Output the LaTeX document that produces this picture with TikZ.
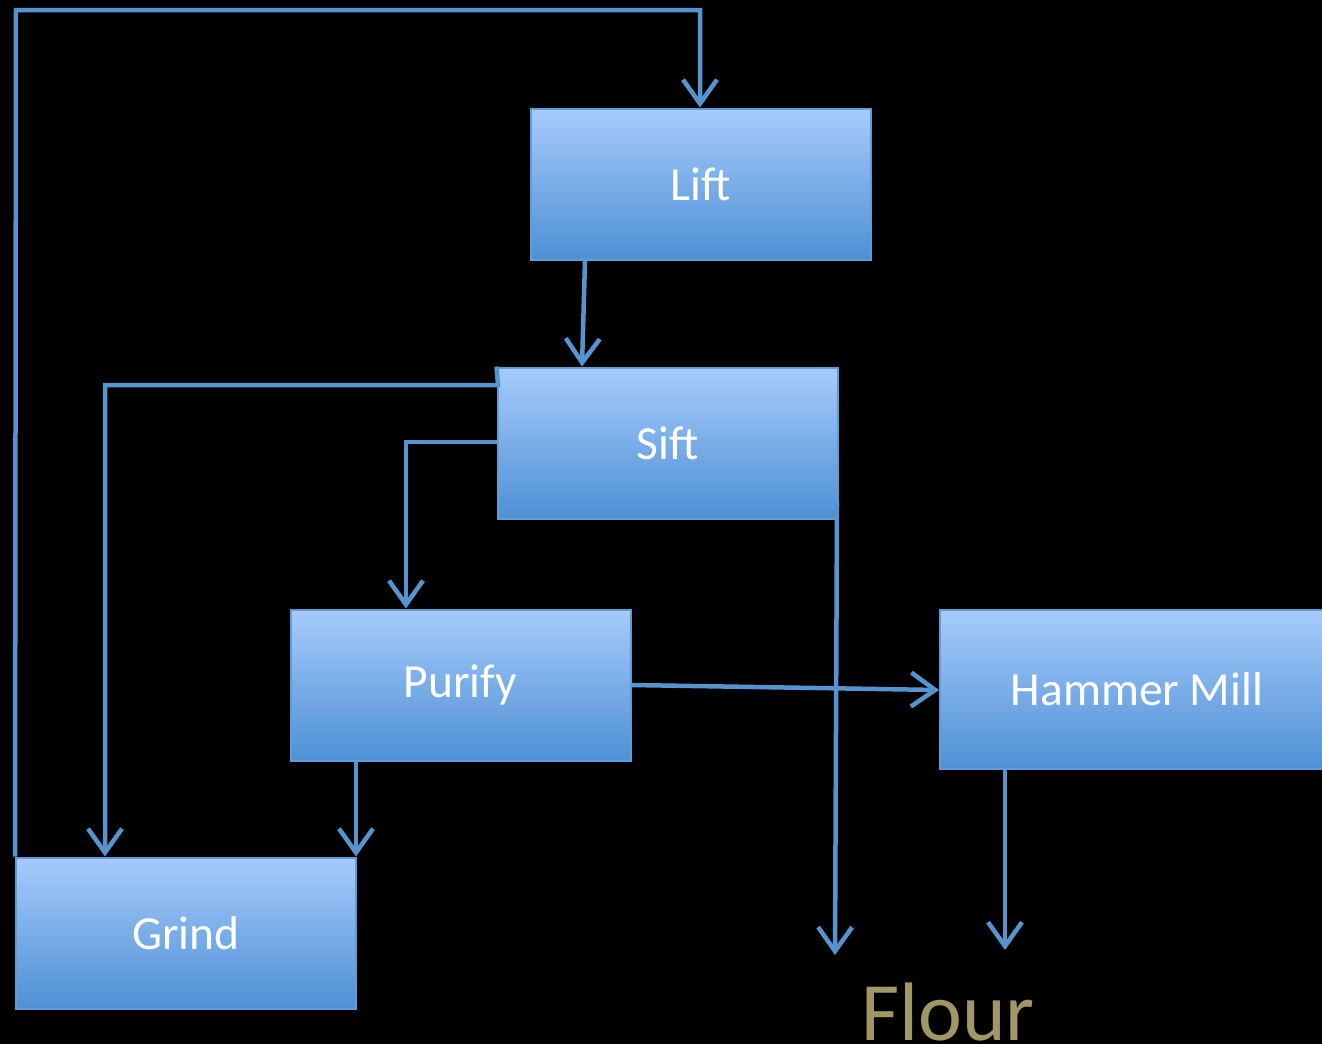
\documentclass[tikz,border=0pt]{standalone}
\usepackage{fontspec}
\setmainfont{Carlito}
\usetikzlibrary{arrows.meta,shadings}
\definecolor{linkblue}{RGB}{86,148,208}
\definecolor{boxtop}{RGB}{166,203,252}
\definecolor{boxbot}{RGB}{78,144,212}
\definecolor{boxedge}{RGB}{96,156,214}
\definecolor{flourgold}{RGB}{160,150,102}
\tikzset{
  stepbox/.style={rectangle, draw=boxedge, line width=2pt, top color=boxtop,
    bottom color=boxbot, minimum width=340pt, minimum height=151pt,
    inner sep=0pt, text=white, font=\fontsize{47.5}{56}\selectfont},
  link/.style={draw=linkblue, line width=4.5pt,
    -{Straight Barb[length=24pt,width=34pt,line width=4.5pt]}}
}
\begin{document}
\begin{tikzpicture}[x=1pt,y=-1pt]
  \fill[black] (0,0) rectangle (1322,1044);
  \clip (0,0) rectangle (1322,1044);
  \useasboundingbox (0,0) rectangle (1322,1044);

  % process steps
  \node[stepbox] (lift)   at (700.5,184) {Lift};
  \node[stepbox] (sift)   at (667.5,443) {Sift};
  \node[stepbox] (purify) at (460.5,685) {Purify};
  \node[stepbox, minimum width=394pt, minimum height=159pt] (mill) at (1137,689.5) {Hammer Mill};
  \node[stepbox] (grind)  at (186,933) {Grind};
  \node[text=flourgold, font=\fontsize{83}{96}\selectfont, anchor=base west] (flour) at (858,1040) {Flour};

  % connectors
  \coordinate (flourA) at (835,955);
  \coordinate (flourB) at (1005,950);

  \draw[link] (grind.north west) -- (16,10) -- (700,10) -- (lift.north -| 700,0);
  \draw[link] (lift.south -| 585,0) -- (sift.north -| 582,0);
  \draw[link] (sift.north west) -- (498,385) -- (105,385) -- (grind.north -| 105,0);
  \draw[link] (sift.west |- 0,442) -- (406,442) -- (purify.north -| 406,0);
  \draw[link] (837,503) -- (flourA);
  \draw[link] (purify.east |- 0,685) -- (mill.west |- 0,690);
  \draw[link] (purify.south -| 356,0) -- (grind.north -| 356,0);
  \draw[link] (mill.south -| 1005,0) -- (flourB);
\end{tikzpicture}
\end{document}
